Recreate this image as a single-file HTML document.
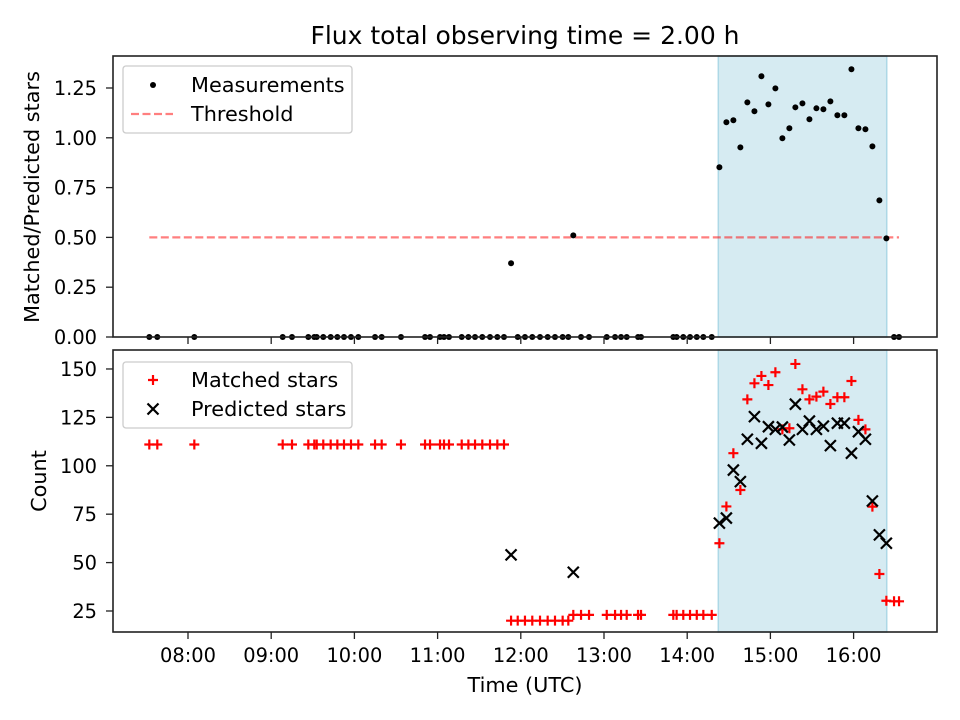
<!DOCTYPE html>
<html><head><meta charset="utf-8"><style>
html,body{margin:0;padding:0;background:#fff;}
svg{display:block;font-family:"DejaVu Sans","Liberation Sans",sans-serif;}
</style></head><body>
<svg id="chart" width="960" height="720" viewBox="0 0 960 720" xmlns="http://www.w3.org/2000/svg"></svg>
<script>
const times = [7.535,7.631,8.076,9.138,9.25,9.446,9.518,9.547,9.626,9.715,9.795,9.875,9.959,10.047,10.248,10.328,10.56,10.849,10.909,11.029,11.077,11.137,11.29,11.37,11.45,11.537,11.63,11.718,11.798,
11.883,11.963,12.05,12.138,12.231,12.323,12.411,12.503,12.571,
12.631,12.724,12.82,13.033,13.133,13.205,13.273,13.409,13.445,13.833,13.873,13.953,14.034,14.115,14.194,14.295,
14.387,14.471,14.555,14.639,14.723,14.808,14.892,14.976,15.060,15.144,15.228,15.300,15.385,15.469,15.553,15.637,15.721,15.805,15.889,15.974,16.058,16.142,16.226,16.310,16.394,
16.486,16.546];
const matched = [111,111,111,111,111,111,111,111,111,111,111,111,111,111,111,111,111,111,111,111,111,111,111,111,111,111,111,111,111,
20,20,20,20,20,20,20,20,20,
23,23,23,23,23,23,23,23,23,23,23,23,23,23,23,23,
60,79,106.5,87.5,134.3,142.6,146.4,141.7,148.3,118.8,119.4,152.6,139.5,134.3,135.7,138.3,131.9,135.4,135.4,143.8,123.7,118.8,78.9,44.1,30.3,
30,30];
const predicted = [null,null,null,null,null,null,null,null,null,null,null,null,null,null,null,null,null,null,null,null,null,null,null,null,null,null,null,null,null,
54,null,null,null,null,null,null,null,null,
45,null,null,null,null,null,null,null,null,null,null,null,null,null,null,null,
70.4,73,97.8,91.8,113.7,125.4,111.6,120.2,118.8,120,113.3,131.8,118.8,123.1,118.8,120.5,110.4,122,122,106.5,117.6,113.7,81.8,64.3,60,
null,null];
const ratio = [0,0,0,0,0,0,0,0,0,0,0,0,0,0,0,0,0,0,0,0,0,0,0,0,0,0,0,0,0,
0.37,0,0,0,0,0,0,0,0,
0.51,0,0,0,0,0,0,0,0,0,0,0,0,0,0,0,
0.852,1.078,1.088,0.952,1.178,1.133,1.309,1.168,1.248,0.998,1.048,1.153,1.173,1.093,1.148,1.143,1.183,1.113,1.113,1.344,1.048,1.043,0.957,0.686,0.495,
0,0];
const threshold = 0.5;
const shadeRange = [14.374, 16.398];
const xTickHours = [8,9,10,11,12,13,14,15,16];
const xTickLabels = ["08:00","09:00","10:00","11:00","12:00","13:00","14:00","15:00","16:00"];
const topTicks = [0,0.25,0.5,0.75,1.0,1.25];
const topTickLabels = ["0.00","0.25","0.50","0.75","1.00","1.25"];
const botTicks = [25,50,75,100,125,150];
const botTickLabels = ["25","50","75","100","125","150"];

const NS="http://www.w3.org/2000/svg";
const svg=document.getElementById('chart');
function mk(tag,attrs,parent){const e=document.createElementNS(NS,tag);for(const k in attrs)e.setAttribute(k,attrs[k]);(parent||svg).appendChild(e);return e;}
const L=113,R=937;
const X0=7.0986,X1=17.0024;
const FS='19.4', FL='20.8', FT='25';
const x=h=>L+(h-X0)/(X1-X0)*(R-L);
const T={top:56,bot:337,min:0,max:1.4106};
const B={top:350,bot:632,min:14.15,max:159.8};
const yT=v=>T.bot-(v-T.min)/(T.max-T.min)*(T.bot-T.top);
const yB=v=>B.bot-(v-B.min)/(B.max-B.min)*(B.bot-B.top);

let t=mk('text',{x:525,y:44,'text-anchor':'middle','font-size':FT,fill:'#000'});t.textContent='Flux total observing time = 2.00 h';



function panel(P,name){
  const g=mk('g',{});
  
  
  const s=mk('rect',{x:x(shadeRange[0]),y:P.top,width:x(shadeRange[1])-x(shadeRange[0]),height:P.bot-P.top,fill:'#add8e6','fill-opacity':0.5,stroke:'#add8e6','stroke-width':1.5},g);
  
  
  return g;
}
function frame(P,g,ticks,labels,yf){
  const r=mk('rect',{x:L,y:P.top,width:R-L,height:P.bot-P.top,fill:'none',stroke:'#222','stroke-width':1.6},g);
  
  
  ticks.forEach((v,i)=>{
    const yy=yf(v);
    mk('line',{x1:L-7,x2:L,y1:yy,y2:yy,stroke:'#222','stroke-width':1.3},g);
    const tl=mk('text',{x:L-16,y:yy+7,'text-anchor':'end','font-size':FS,fill:'#000'},g);
    tl.textContent=labels[i];
    
    
  });
  xTickHours.forEach(h=>{mk('line',{x1:x(h),x2:x(h),y1:P.bot,y2:P.bot+7,stroke:'#222','stroke-width':1.3},g);});
}

const gT=panel(T,'ratio-panel');
const th=mk('line',{x1:x(Math.min(...times)),x2:x(Math.max(...times)),y1:yT(threshold),y2:yT(threshold),stroke:'#ff0000','stroke-opacity':0.5,'stroke-width':2.2,'stroke-dasharray':'8,3.5'},gT);


times.forEach((h,i)=>{
  const c=mk('circle',{cx:x(h),cy:yT(ratio[i]),r:3,fill:'#000'},gT);
  
  
});
frame(T,gT,topTicks,topTickLabels,yT);
let yl=mk('text',{transform:'translate(39,197) rotate(-90)','text-anchor':'middle','font-size':FL,fill:'#000'});yl.textContent='Matched/Predicted stars';



const gB=panel(B,'count-panel');
function plus(cx,cy,g){return mk('path',{d:`M${cx-5},${cy}H${cx+5}M${cx},${cy-5}V${cy+5}`,stroke:'#ff0000','stroke-width':2.2},g);}
function cross(cx,cy,g){return mk('path',{d:`M${cx-5.5},${cy-5.5}L${cx+5.5},${cy+5.5}M${cx-5.5},${cy+5.5}L${cx+5.5},${cy-5.5}`,stroke:'#000','stroke-width':2.2},g);}
times.forEach((h,i)=>{
  const p=plus(x(h),yB(matched[i]),gB);
  
  
});
times.forEach((h,i)=>{
  if(predicted[i]==null)return;
  const p=cross(x(h),yB(predicted[i]),gB);
  
  
});
frame(B,gB,botTicks,botTickLabels,yB);
xTickHours.forEach((h,i)=>{
  const tl=mk('text',{x:x(h),y:662,'text-anchor':'middle','font-size':FS,fill:'#000'});
  tl.textContent=xTickLabels[i];
  
  
});
let yl2=mk('text',{transform:'translate(46,481) rotate(-90)','text-anchor':'middle','font-size':FL,fill:'#000'});yl2.textContent='Count';


let xl=mk('text',{x:525,y:692,'text-anchor':'middle','font-size':FL,fill:'#000'});xl.textContent='Time (UTC)';



const lg1=mk('g',{});


mk('rect',{x:123,y:66,width:229,height:67,rx:3,fill:'#fff','fill-opacity':0.8,stroke:'#ccc','stroke-width':1.3},lg1);
mk('circle',{cx:153,cy:85,r:3,fill:'#000'},lg1);
let a=mk('text',{x:191,y:92,'font-size':FL,fill:'#000'},lg1);a.textContent='Measurements';


mk('line',{x1:131,x2:173,y1:114,y2:114,stroke:'#ff0000','stroke-opacity':0.5,'stroke-width':2.2,'stroke-dasharray':'8,3.5'},lg1);
a=mk('text',{x:191,y:121,'font-size':FL,fill:'#000'},lg1);a.textContent='Threshold';



const lg2=mk('g',{});


mk('rect',{x:123,y:362,width:229,height:66,rx:3,fill:'#fff','fill-opacity':0.8,stroke:'#ccc','stroke-width':1.3},lg2);
plus(153,380,lg2);
a=mk('text',{x:191,y:387,'font-size':FL,fill:'#000'},lg2);a.textContent='Matched stars';


cross(153,409,lg2);
a=mk('text',{x:191,y:416,'font-size':FL,fill:'#000'},lg2);a.textContent='Predicted stars';


</script>
</body></html>
